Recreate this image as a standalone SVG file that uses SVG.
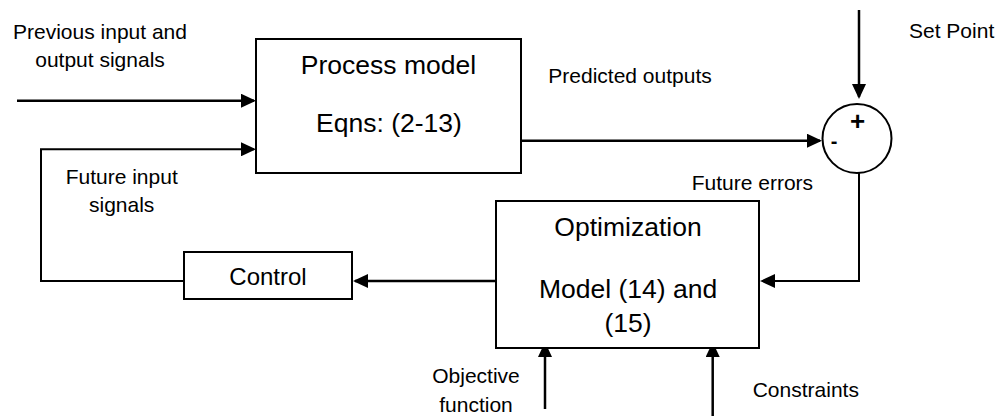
<svg xmlns="http://www.w3.org/2000/svg" width="1004" height="416" viewBox="0 0 1004 416">
  <defs>
    <marker id="arrow" markerUnits="userSpaceOnUse" markerWidth="15" markerHeight="14" refX="13" refY="7" orient="auto">
      <path d="M0,0 L15,7 L0,14 z" fill="#000"/>
    </marker>
  </defs>
  <style>
    .box { fill: #fff; stroke: #000; stroke-width: 2; }
    .conn { fill: none; stroke: #000; stroke-width: 2.5; marker-end: url(#arrow); }
    .thin { stroke-width: 2; }
    text { font-family: "Liberation Sans", Arial, sans-serif; fill: #000; }
    .lbl { font-size: 21px; }
    .big { font-size: 26.5px; }
    .mid { text-anchor: middle; }
    .sign { font-weight: bold; text-anchor: middle; }
  </style>
  <rect width="1004" height="416" fill="#fff"/>

  <g id="connectors">
    <path class="conn" d="M17,100.7 H254"/>
    <path class="conn thin" d="M184,281 H41 V149.3 H254"/>
    <path class="conn" d="M521,140.7 H820"/>
    <path class="conn" d="M859,10 V97"/>
    <path class="conn thin" d="M859,173 V281 H762"/>
    <path class="conn" d="M496,281 H355"/>
    <path class="conn" d="M545,409 V344"/>
    <path class="conn" d="M712.7,416 V344"/>
  </g>

  <g id="process-model">
    <rect class="box" x="256" y="39" width="265" height="134"/>
    <text class="big mid" x="388.5" y="74.3">Process model</text>
    <text class="big mid" x="389" y="131.5">Eqns: (2-13)</text>
  </g>

  <g id="optimization">
    <rect class="box" x="496" y="201" width="263" height="147"/>
    <text class="big mid" x="628" y="236">Optimization</text>
    <text class="big mid" x="628" y="298">Model (14) and</text>
    <text class="big mid" x="628" y="331.5">(15)</text>
  </g>

  <g id="control">
    <rect class="box" x="184" y="252" width="168" height="47"/>
    <text class="mid" x="268" y="285" font-size="24">Control</text>
  </g>

  <g id="summing-junction">
    <circle class="box" cx="857" cy="138.5" r="34.5"/>
    <text class="sign" x="857.5" y="130" font-size="26">+</text>
    <text class="sign" x="834" y="148" font-size="20">-</text>
  </g>

  <g id="labels">
    <text class="lbl mid" x="100" y="38.5">Previous input and</text>
    <text class="lbl mid" x="100" y="66.5">output signals</text>
    <text class="lbl" x="548.3" y="82.5">Predicted outputs</text>
    <text class="lbl" x="909" y="38.3">Set Point</text>
    <text class="lbl mid" x="121.7" y="184">Future input</text>
    <text class="lbl mid" x="121.7" y="211.5">signals</text>
    <text class="lbl" x="691.7" y="190">Future errors</text>
    <text class="lbl mid" x="476" y="383.3">Objective</text>
    <text class="lbl mid" x="476" y="411.5">function</text>
    <text class="lbl" x="752.7" y="396.7">Constraints</text>
  </g>
</svg>
